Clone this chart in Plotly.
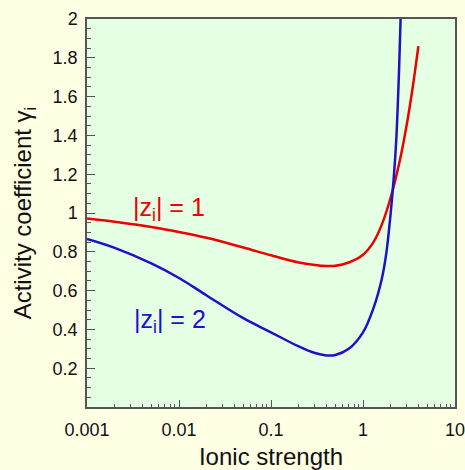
import plotly.graph_objects as go

# Ionic strength (mol/kg) and activity coefficients for |z| = 1 and |z| = 2 ions
ionic_strength_z1 = [0.001, 0.002, 0.005, 0.01, 0.02, 0.05, 0.1, 0.2, 0.3, 0.4,
                     0.5, 0.7, 1.0, 1.3, 1.6, 2.0, 2.5, 3.0, 3.5, 4.0]
gamma_z1 = [0.972, 0.955, 0.928, 0.902, 0.872, 0.822, 0.782, 0.745, 0.732, 0.727,
            0.728, 0.745, 0.785, 0.85, 0.94, 1.08, 1.265, 1.46, 1.66, 1.86]

ionic_strength_z2 = [0.001, 0.002, 0.005, 0.01, 0.02, 0.05, 0.1, 0.2, 0.3, 0.4,
                     0.5, 0.7, 1.0, 1.3, 1.6, 1.8, 2.0, 2.15, 2.3, 2.45, 2.6, 2.8]
gamma_z2 = [0.866, 0.82, 0.74, 0.665, 0.575, 0.458, 0.385, 0.312, 0.278, 0.266,
            0.268, 0.30, 0.385, 0.51, 0.66, 0.80, 1.00, 1.17, 1.38, 1.70, 2.10, 2.8]

x_tick_vals = [0.001, 0.01, 0.1, 1, 10]
x_tick_text = ["0.001", "0.01", "0.1", "1", "10"]
y_tick_vals = [0.2, 0.4, 0.6, 0.8, 1.0, 1.2, 1.4, 1.6, 1.8, 2.0]
y_tick_text = ["0.2", "0.4", "0.6", "0.8", "1", "1.2", "1.4", "1.6", "1.8", "2"]

RED = "#ee0000"
BLUE = "#2010c8"
AXIS = "#555555"
FONT = "Liberation Sans, Arial, sans-serif"

# minor ticks at 2..9 within each decade
x_minor = [m * 10.0 ** e for e in range(-3, 1) for m in range(2, 10)]

fig = go.Figure()
fig.add_trace(go.Scatter(x=ionic_strength_z1, y=gamma_z1, mode="lines",
                         line=dict(color=RED, width=2.5, shape="spline", smoothing=1.0),
                         showlegend=False, hoverinfo="skip"))
fig.add_trace(go.Scatter(x=ionic_strength_z2, y=gamma_z2, mode="lines",
                         line=dict(color=BLUE, width=2.5, shape="spline", smoothing=1.0),
                         showlegend=False, hoverinfo="skip"))

fig.add_annotation(x=-2.52, y=1.02, xref="x", yref="y", xanchor="left", yanchor="middle",
                   text="|z<sub>i</sub>| = 1", showarrow=False,
                   font=dict(family=FONT, size=25, color=RED))
fig.add_annotation(x=-2.51, y=0.445, xref="x", yref="y", xanchor="left", yanchor="middle",
                   text="|z<sub>i</sub>| = 2", showarrow=False,
                   font=dict(family=FONT, size=25, color=BLUE))

fig.update_layout(
    width=465, height=470,
    margin=dict(l=87, r=10, t=19, b=63),
    paper_bgcolor="#ffffe3",
    plot_bgcolor="#e4ffe4",
    font=dict(family=FONT, size=18, color="#111111"),
)
fig.update_xaxes(
    type="log", range=[-3, 1], automargin=False,
    tickvals=x_tick_vals, ticktext=x_tick_text,
    ticks="inside", ticklen=7, tickwidth=1.2, tickcolor=AXIS,
    minor=dict(tickvals=x_minor, ticks="inside", ticklen=3.5, tickwidth=1, tickcolor=AXIS, showgrid=False),
    showline=True, linecolor=AXIS, linewidth=1.5, mirror=True,
    showgrid=False, zeroline=False,
    tickfont=dict(family=FONT, size=18, color="#111111"),
    ticklabelstandoff=6, ticklabeloverflow="allow",
    title=dict(text="Ionic strength", font=dict(family=FONT, size=24, color="#111111"), standoff=12),
)
fig.update_yaxes(
    range=[0, 2], automargin=False,
    tickvals=y_tick_vals, ticktext=y_tick_text,
    ticks="inside", ticklen=8, tickwidth=1.2, tickcolor=AXIS,
    minor=dict(dtick=0.05, ticks="inside", ticklen=4, tickwidth=1, tickcolor=AXIS, showgrid=False),
    showline=True, linecolor=AXIS, linewidth=1.5, mirror=True,
    showgrid=False, zeroline=False,
    tickfont=dict(family=FONT, size=18, color="#111111"),
    ticklabelstandoff=4, ticklabeloverflow="allow",
    title=dict(text="Activity coefficient γ<sub>i</sub>", font=dict(family=FONT, size=24, color="#111111"), standoff=14),
)

fig.write_html("out.html")
